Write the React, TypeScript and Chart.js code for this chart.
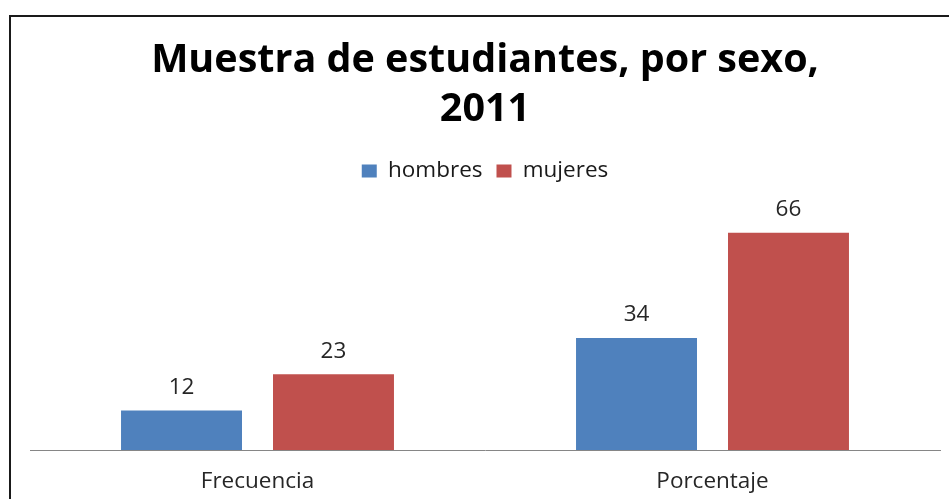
import React, { useEffect, useRef } from "react";
import { Chart, registerables } from "chart.js";

Chart.register(...registerables);

const categories = ["Frecuencia", "Porcentaje"];
const hombres = [12, 34];
const mujeres = [23, 66];
const seriesNames = ["hombres", "mujeres"];
const titleLines = ["Muestra de estudiantes, por sexo,", "2011"];

const FONT = "'Open Sans', 'Noto Sans', sans-serif";

const framePlugin = {
  id: "frame",
  afterDraw(chart: any) {
    const ctx = chart.ctx;
    ctx.save();
    ctx.strokeStyle = "#1a1a1a";
    ctx.lineWidth = 2;
    ctx.beginPath();
    ctx.moveTo(10, chart.height + 5);
    ctx.lineTo(10, 16);
    ctx.lineTo(chart.width + 5, 16);
    ctx.stroke();
    ctx.restore();
  },
};

const valueLabels = {
  id: "valueLabels",
  afterDatasetsDraw(chart: any) {
    const ctx = chart.ctx;
    ctx.save();
    ctx.font = `22.5px ${FONT}`;
    ctx.fillStyle = "#262626";
    ctx.textAlign = "center";
    ctx.textBaseline = "middle";
    chart.data.datasets.forEach((ds: any, i: number) => {
      const meta = chart.getDatasetMeta(i);
      meta.data.forEach((el: any, j: number) => {
        ctx.fillText(String(ds.data[j]), el.x, el.y - 23);
      });
    });
    ctx.restore();
  },
};

export default function App() {
  const ref = useRef<HTMLCanvasElement>(null);
  useEffect(() => {
    const chart = new Chart(ref.current!, {
      type: "bar",
      data: {
        labels: categories,
        datasets: [
          { label: seriesNames[0], data: hombres, backgroundColor: "#4F81BD" },
          { label: seriesNames[1], data: mujeres, backgroundColor: "#C0504D" },
        ],
      },
      options: {
        responsive: false,
        animation: false,
        layout: { padding: { left: 30, right: 9, top: 36, bottom: 6 } },
        datasets: { bar: { categoryPercentage: 0.668, barPercentage: 0.796 } },
        plugins: {
          title: {
            display: true,
            text: titleLines,
            color: "#000",
            font: { family: FONT, size: 39.5, weight: "bold", lineHeight: 1.25 },
            padding: { top: 0, bottom: 11 },
          },
          legend: {
            display: true,
            labels: {
              color: "#1a1a1a",
              boxWidth: 15,
              boxHeight: 13,
              padding: 14,
              font: { family: FONT, size: 22.5 },
            },
          },
          tooltip: { enabled: false },
        },
        scales: {
          x: {
            grid: { display: false, drawTicks: false },
            border: { display: true, color: "#868686", width: 1 },
            ticks: { color: "#262626", padding: 18, font: { family: FONT, size: 22.5 } },
          },
          y: { display: false, min: 0, max: 78.3 },
        },
      },
      plugins: [valueLabels, framePlugin],
    });
    return () => chart.destroy();
  }, []);
  return (
    <div style={{ position: "fixed", left: 0, top: 0, width: 949, height: 499, overflow: "hidden", background: "#fff" }}>
      <canvas ref={ref} width={949} height={519} style={{ display: "block" }} />
    </div>
  );
}
